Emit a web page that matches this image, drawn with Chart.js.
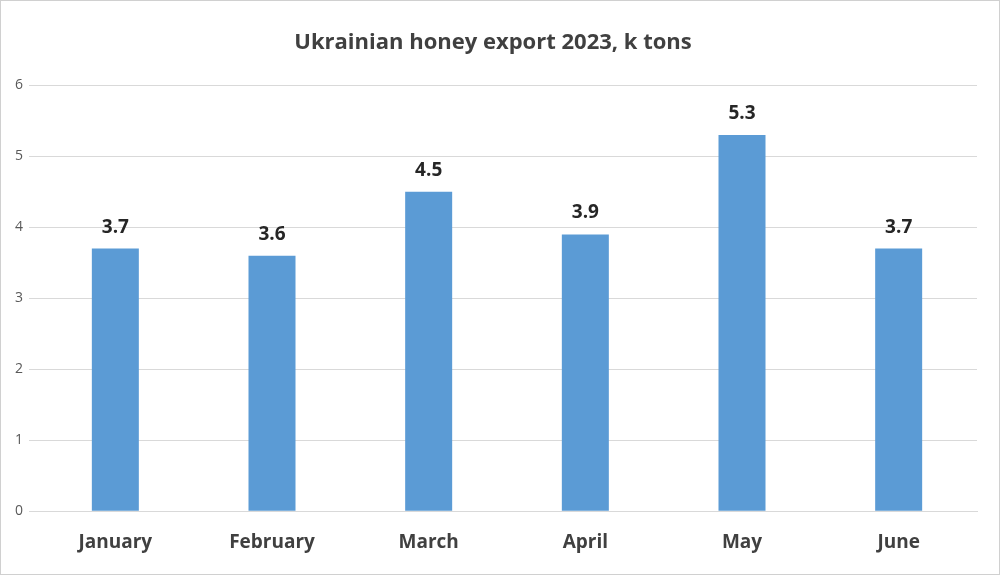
<!DOCTYPE html>
<html>
<head>
<meta charset="utf-8">
<script src="https://cdn.jsdelivr.net/npm/chart.js@4"></script>
<style>
  html, body { margin: 0; padding: 0; background: #fff; }
  #wrap { width: 998px; height: 573px; border: 1px solid #d0d0d0; }
</style>
</head>
<body>
<div id="wrap"><canvas id="barChart" width="998" height="573"></canvas></div>
<script>
const months = ['January', 'February', 'March', 'April', 'May', 'June'];
const exportValues = [3.7, 3.6, 4.5, 3.9, 5.3, 3.7];
const yTicks = [0, 1, 2, 3, 4, 5, 6];

// draw value labels above bars
const valueLabels = {
    id: 'valueLabels',
    afterDatasetsDraw(chart) {
        const ctx = chart.ctx;
        const meta = chart.getDatasetMeta(0);
        ctx.save();
        ctx.font = 'bold 19px "Open Sans", sans-serif';
        ctx.fillStyle = '#262626';
        ctx.textAlign = 'center';
        ctx.textBaseline = 'bottom';
        meta.data.forEach(function(bar, i) {
            ctx.fillText(exportValues[i].toFixed(1), bar.x, bar.y - 12);
        });
        ctx.restore();
    }
};

const ctx = document.getElementById('barChart').getContext('2d');
new Chart(ctx, {
    type: 'bar',
    data: {
        labels: months,
        datasets: [{
            data: exportValues,
            backgroundColor: '#5b9bd5',
            barPercentage: 0.3,
            categoryPercentage: 1.0
        }]
    },
    options: {
        responsive: false,
        animation: false,
        layout: { padding: { left: 8, right: 22, top: 10, bottom: 8 } },
        plugins: {
            legend: { display: false },
            tooltip: { enabled: false },
            title: {
                display: true,
                text: 'Ukrainian honey export 2023, k tons',
                color: '#404040',
                font: { family: '"Open Sans", sans-serif', size: 22, weight: 'bold' },
                padding: { top: 19, bottom: 29 }
            }
        },
        scales: {
            x: {
                grid: { display: false },
                border: { color: '#d9d9d9' },
                ticks: {
                    color: '#404040',
                    font: { family: '"Open Sans", sans-serif', size: 19, weight: 'bold' },
                    padding: 12
                }
            },
            y: {
                min: 0,
                max: 6,
                afterBuildTicks: function(axis) {
                    axis.ticks = yTicks.map(function(v) { return { value: v }; });
                },
                grid: { color: '#d9d9d9' },
                border: { display: false },
                ticks: {
                    color: '#595959',
                    font: { family: '"Open Sans", sans-serif', size: 14 },
                    padding: 6
                }
            }
        }
    },
    plugins: [valueLabels]
});
</script>
</body>
</html>
